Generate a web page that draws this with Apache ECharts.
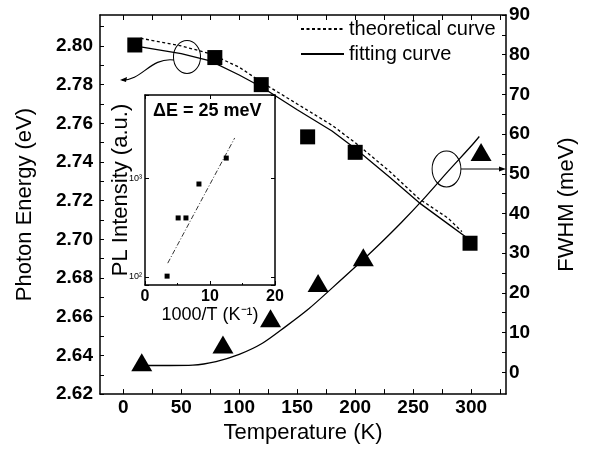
<!DOCTYPE html>
<html>
<head>
<meta charset="utf-8">
<script src="https://cdn.jsdelivr.net/npm/echarts@6/dist/echarts.min.js"></script>
<style>
  html, body { margin: 0; padding: 0; background: #fff; }
  #chart { width: 591px; height: 449px; }
</style>
</head>
<body>
<div id="chart"></div>
<script>
// main plot: photon energy (squares) and FWHM (triangles) vs temperature
var tempSquares = [10, 79, 119, 159, 200, 299];
var energySquares = [2.8005, 2.794, 2.780, 2.753, 2.745, 2.698];

var tempTriangles = [16, 86, 127, 168, 207, 308.5];
var fwhmTriangles = [2.5, 7.0, 13.6, 22.5, 29.0, 55.5];

var theoTemp = [15, 50, 75, 100, 120, 150, 180, 200, 230, 255, 280, 292];
var theoEnergy = [2.804, 2.800, 2.796, 2.789, 2.781, 2.770, 2.759, 2.750, 2.735, 2.721, 2.711, 2.704];

var fitTemp = [15, 50, 75, 100, 120, 150, 180, 200, 230, 255, 280, 296];
var fitEnergy = [2.7995, 2.796, 2.7923, 2.785, 2.7785, 2.767, 2.756, 2.747, 2.732, 2.719, 2.708, 2.701];

var fwhmFitTemp = [15, 40, 60, 80, 100, 120, 140, 160, 180, 200, 220, 240, 260, 280, 300, 307];
var fwhmFit = [1.7, 1.7, 1.8, 2.7, 4.5, 7.3, 11.5, 16, 21.2, 26.5, 32, 37.8, 44, 50.6, 57, 59.4];

// inset: PL intensity vs 1000/T
var invTemp = [3.4, 5.1, 6.3, 8.3, 12.5];
var plIntensity = [102, 395, 395, 870, 1590];
var invTempFit = [3.5, 13.8];
var plFit = [138, 2540];

var tempTicks = [0, 50, 100, 150, 200, 250, 300];
var energyTicks = [2.62, 2.64, 2.66, 2.68, 2.70, 2.72, 2.74, 2.76, 2.78, 2.80];
var fwhmTicks = [0, 10, 20, 30, 40, 50, 60, 70, 80, 90];

function pairs(xs, ys) {
  return xs.map(function (x, i) { return [x, ys[i]]; });
}

var tempMinor = [];
for (var t = 0; t <= 325; t += 25) tempMinor.push(t);
var energyMinor = [];
for (var k = 262; k <= 281; k++) energyMinor.push(k / 100);
var fwhmMinor = [];
for (var f = 0; f <= 90; f += 5) fwhmMinor.push(f);

var font = 'Liberation Sans, Arial, sans-serif';
var black = '#000';

var chart = echarts.init(document.getElementById('chart'));

var option = {
  animation: false,
  backgroundColor: '#fff',
  textStyle: { fontFamily: font, color: black },
  grid: [
    { left: 100, right: 85, top: 15, bottom: 52 },
    { left: 145, top: 95, width: 130, height: 190, show: true, backgroundColor: '#fff', borderWidth: 0, z: 5 }
  ],
  title: {
    text: '\u0394E = 25 meV',
    left: 148, top: 97,
    textStyle: { fontFamily: font, fontSize: 18, fontWeight: 'bold', color: black },
    z: 10
  },
  legend: {
    left: 295, top: 14,
    orient: 'vertical',
    itemWidth: 43, itemHeight: 14, itemGap: 5,
    selectedMode: false,
    itemStyle: { opacity: 0 },
    textStyle: { fontFamily: font, fontSize: 20, color: black, lineHeight: 20 },
    data: ['theoretical curve', 'fitting curve']
  },
  xAxis: [
    {
      gridIndex: 0, type: 'value', min: -20, max: 330, position: 'bottom',
      name: 'Temperature (K)', nameLocation: 'middle', nameGap: 24,
      nameTextStyle: { fontFamily: font, fontSize: 22, color: black },
      axisLine: { onZero: false, lineStyle: { color: black, width: 1.5 } },
      axisTick: { inside: true, length: 5, customValues: tempMinor, lineStyle: { color: black } },
      axisLabel: { customValues: tempTicks, margin: 4, fontFamily: font, fontSize: 19, fontWeight: 'bold', color: black },
      splitLine: { show: false }
    },
    {
      gridIndex: 0, type: 'value', min: -20, max: 330, position: 'top',
      axisLine: { onZero: false, lineStyle: { color: black, width: 1.5 } },
      axisTick: { inside: true, length: 5, customValues: tempMinor, lineStyle: { color: black } },
      axisLabel: { show: false },
      splitLine: { show: false }
    },
    {
      gridIndex: 1, type: 'value', min: 0, max: 20, interval: 10, position: 'bottom',
      name: '1000/T (K\u207B\u00B9)', nameLocation: 'middle', nameGap: 16,
      nameTextStyle: { fontFamily: font, fontSize: 18, color: black },
      axisLine: { onZero: false, lineStyle: { color: black, width: 1.5 } },
      axisTick: { inside: true, length: 4, lineStyle: { color: black } },
      minorTick: { show: true, splitNumber: 2, length: 2, lineStyle: { color: black } },
      axisLabel: { margin: 4, fontFamily: font, fontSize: 16, fontWeight: 'bold', color: black },
      splitLine: { show: false }, z: 6
    },
    {
      gridIndex: 1, type: 'value', min: 0, max: 20, interval: 10, position: 'top',
      axisLine: { onZero: false, lineStyle: { color: black, width: 1.5 } },
      axisTick: { inside: true, length: 4, lineStyle: { color: black } },
      axisLabel: { show: false },
      splitLine: { show: false }, z: 6
    }
  ],
  yAxis: [
    {
      gridIndex: 0, type: 'value', min: 2.62, max: 2.816, position: 'left',
      name: 'Photon Energy (eV)', nameLocation: 'middle', nameGap: 64, nameRotate: 90,
      nameTextStyle: { fontFamily: font, fontSize: 22, color: black },
      axisLine: { onZero: false, lineStyle: { color: black, width: 1.5 } },
      axisTick: { inside: true, length: 4, customValues: energyMinor, lineStyle: { color: black } },
      axisLabel: {
        customValues: energyTicks, margin: 7, fontFamily: font, fontSize: 19, fontWeight: 'bold', color: black,
        formatter: function (v) { return v.toFixed(2); }
      },
      splitLine: { show: false }
    },
    {
      gridIndex: 0, type: 'value', min: -5.5, max: 90, position: 'right',
      name: 'FWHM (meV)', nameLocation: 'middle', nameGap: 50, nameRotate: 90,
      nameTextStyle: { fontFamily: font, fontSize: 22, color: black },
      axisLine: { onZero: false, lineStyle: { color: black, width: 1.5 } },
      axisTick: { inside: true, length: 4, customValues: fwhmMinor, lineStyle: { color: black } },
      axisLabel: { customValues: fwhmTicks, margin: 3, fontFamily: font, fontSize: 19, fontWeight: 'bold', color: black },
      splitLine: { show: false }
    },
    {
      gridIndex: 1, type: 'log', logBase: 10, min: 83, max: 6900, splitNumber: 2, position: 'left',
      name: 'PL Intensity (a.u.)', nameLocation: 'middle', nameGap: 13, nameRotate: 90,
      nameMoveOverlap: false,
      nameTextStyle: { fontFamily: font, fontSize: 22, color: black },
      axisLine: { onZero: false, lineStyle: { color: black, width: 1.5 } },
      axisTick: { inside: true, length: 4, lineStyle: { color: black } },
      axisLabel: {
        margin: 3, fontFamily: font, fontSize: 9, color: black,
        formatter: function (v) {
          var e = Math.log10(v);
          if (Math.abs(e - Math.round(e)) > 1e-6) return '';
          return Math.round(e) === 2 ? '10\u00B2' : (Math.round(e) === 3 ? '10\u00B3' : '');
        }
      },
      splitLine: { show: false }, z: 6
    },
    {
      gridIndex: 1, type: 'log', logBase: 10, min: 83, max: 6900, splitNumber: 2, position: 'right',
      axisLine: { onZero: false, lineStyle: { color: black, width: 1.5 } },
      axisTick: { inside: true, length: 4, lineStyle: { color: black } },
      axisLabel: { show: false },
      splitLine: { show: false }, z: 6
    }
  ],
  series: [
    {
      name: 'theoretical curve', type: 'line', xAxisIndex: 0, yAxisIndex: 0,
      data: pairs(theoTemp, theoEnergy), symbol: 'none',
      lineStyle: { color: black, width: 1.3, type: [3, 2.5] }, itemStyle: { color: black }
    },
    {
      name: 'fitting curve', type: 'line', xAxisIndex: 0, yAxisIndex: 0,
      data: pairs(fitTemp, fitEnergy), symbol: 'none',
      lineStyle: { color: black, width: 1.3 }, itemStyle: { color: black }
    },
    {
      name: 'fitting curve', type: 'line', xAxisIndex: 0, yAxisIndex: 1,
      data: pairs(fwhmFitTemp, fwhmFit), symbol: 'none', smooth: 0.3,
      lineStyle: { color: black, width: 1.3 }, itemStyle: { color: black }
    },
    {
      name: 'energy', type: 'scatter', xAxisIndex: 0, yAxisIndex: 0,
      data: pairs(tempSquares, energySquares), symbol: 'rect', symbolSize: 15,
      itemStyle: { color: black, opacity: 1 }, z: 4
    },
    {
      name: 'fwhm', type: 'scatter', xAxisIndex: 0, yAxisIndex: 1,
      data: pairs(tempTriangles, fwhmTriangles), symbol: 'triangle', symbolSize: [21, 18],
      itemStyle: { color: black, opacity: 1 }, z: 4
    },
    {
      name: 'pl', type: 'scatter', xAxisIndex: 2, yAxisIndex: 2,
      data: pairs(invTemp, plIntensity), symbol: 'rect', symbolSize: 5,
      itemStyle: { color: black, opacity: 1 }, z: 7
    },
    {
      name: 'pl fit', type: 'line', xAxisIndex: 2, yAxisIndex: 2,
      data: pairs(invTempFit, plFit), symbol: 'none',
      lineStyle: { color: black, width: 0.8, type: [5, 2, 1, 2] }, z: 7
    }
  ],
  graphic: [
    // ellipse + arrow pointing to the left axis
    { type: 'circle', x: 187, y: 57, scaleX: 0.82, shape: { cx: 0, cy: 0, r: 16.5 },
      style: { fill: null, stroke: black, lineWidth: 1.2 }, z: 20 },
    { type: 'bezierCurve', shape: { x1: 174, y1: 60, cpx1: 150, cpy1: 57, cpx2: 142, cpy2: 81, x2: 122, y2: 80 },
      style: { fill: null, stroke: black, lineWidth: 1.2 }, z: 20 },
    { type: 'polygon', shape: { points: [[120, 80], [127, 77], [126, 82]] }, style: { fill: black }, z: 20 },
    // ellipse + arrow pointing to the right axis
    { type: 'circle', x: 446.5, y: 169, scaleX: 0.8, shape: { cx: 0, cy: 0, r: 18 },
      style: { fill: null, stroke: black, lineWidth: 1.2 }, z: 20 },
    { type: 'line', shape: { x1: 461, y1: 169, x2: 503, y2: 169 }, style: { stroke: black, lineWidth: 1.2 }, z: 20 },
    { type: 'polygon', shape: { points: [[506, 169], [499, 166.5], [499, 171.5]] }, style: { fill: black }, z: 20 }
  ]
};

chart.setOption(option);

window.addEventListener('resize', function () {
  chart.resize();
});
</script>
</body>
</html>
